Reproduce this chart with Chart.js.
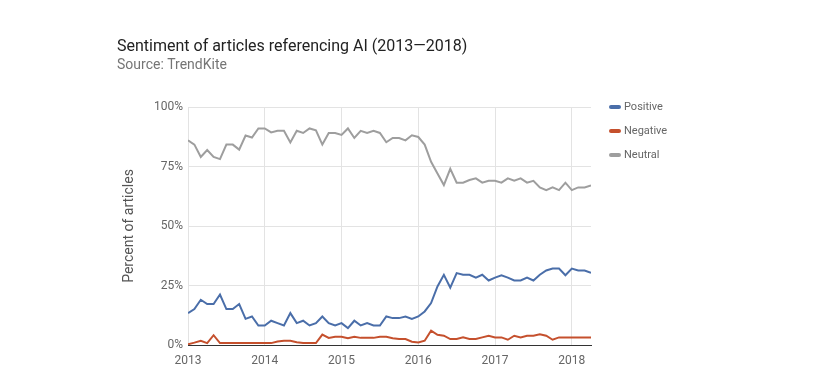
<!DOCTYPE html>
<html>
<head>
<meta charset="utf-8">
<script src="https://cdn.jsdelivr.net/npm/chart.js@4.4.0/dist/chart.umd.min.js"></script>
<style>
  html, body { margin: 0; padding: 0; background: #fff; }
  canvas { display: block; }
</style>
</head>
<body>
<canvas id="chart" width="818" height="391"></canvas>
<script>
// tick labels (one per January)
var years = ["2013", "2014", "2015", "2016", "2017", "2018"];

// monthly shares in %, Jan 2013 .. Apr 2018
var positive = [13.4, 15.1, 19.0, 17.2, 17.2, 21.2, 15.1, 15.1, 17.2, 11.0,
                12.0, 8.2, 8.2, 10.2, 9.2, 8.2, 13.4, 9.2, 10.2, 8.2,
                9.2, 12.0, 9.2, 8.2, 9.2, 7.1, 10.2, 8.2, 9.2, 8.2,
                8.2, 12.0, 11.3, 11.3, 12.0, 11.0, 12.0, 14.1, 17.6, 24.6,
                29.5, 24.1, 30.2, 29.5, 29.5, 28.3, 29.5, 27.1, 28.3, 29.3,
                28.3, 27.1, 27.1, 28.3, 27.1, 29.5, 31.3, 32.1, 32.1, 29.3,
                32.1, 31.3, 31.3, 30.3];

var negative = [0.3, 1.0, 1.8, 0.8, 4.1, 0.8, 0.8, 0.8, 0.8, 0.8,
                0.8, 0.8, 0.8, 0.8, 1.5, 1.8, 1.8, 1.2, 0.8, 0.8,
                0.8, 4.4, 3.0, 3.5, 3.5, 2.8, 3.5, 3.0, 3.0, 3.0,
                3.5, 3.5, 2.8, 2.5, 2.5, 1.4, 1.1, 1.8, 6.0, 4.3,
                3.9, 2.5, 2.5, 3.2, 2.5, 2.5, 3.2, 3.9, 3.2, 3.2,
                2.2, 3.9, 3.2, 3.9, 3.9, 4.5, 3.9, 2.2, 3.2, 3.2,
                3.2, 3.2, 3.2, 3.2];

var neutral = [86.0, 84.2, 79.0, 81.9, 79.0, 78.1, 84.2, 84.2, 82.1, 88.0,
               87.2, 91.0, 91.0, 89.3, 90.0, 90.0, 85.1, 90.0, 89.1, 91.0,
               90.2, 84.2, 89.1, 89.1, 88.3, 91.0, 87.0, 90.0, 89.1, 90.0,
               89.1, 85.2, 87.0, 87.0, 86.0, 88.1, 87.4, 84.2, 77.0, 72.1,
               67.2, 74.0, 68.2, 68.2, 69.3, 70.0, 68.2, 69.0, 69.0, 68.2,
               70.0, 69.0, 70.0, 68.2, 69.0, 66.2, 65.1, 66.2, 65.1, 68.2,
               65.1, 66.2, 66.2, 67.0];

var seriesNames = ["Positive", "Negative", "Neutral"];
var seriesColors = ["#4a6ea9", "#c5502d", "#9e9e9e"];

var FONT = "Roboto, 'Noto Sans', Arial, sans-serif";

function toPoints(arr) {
    return arr.map(function (v, i) { return {x: i, y: v}; });
}

function makeDataset(idx, arr) {
    return {
        label: seriesNames[idx],
        data: toPoints(arr),
        borderColor: seriesColors[idx],
        backgroundColor: seriesColors[idx],
        borderWidth: 2,
        pointRadius: 0,
        tension: 0
    };
}

// title, subtitle and legend are drawn by hand
var headerPlugin = {
    id: "header",
    beforeDraw: function (chart) {
        var ctx = chart.ctx;
        ctx.save();
        ctx.fillStyle = "#fff";
        ctx.fillRect(0, 0, chart.width, chart.height);
        ctx.restore();
    },
    afterDraw: function (chart) {
        var ctx = chart.ctx;
        ctx.save();
        ctx.textBaseline = "middle";
        ctx.textAlign = "left";
        ctx.fillStyle = "#222";
        ctx.font = "16px " + FONT;
        ctx.fillText("Sentiment of articles referencing AI (2013\u20142018)", 117, 47);
        ctx.fillStyle = "#757575";
        ctx.font = "14px " + FONT;
        ctx.fillText("Source: TrendKite", 117, 65);

        // legend
        ctx.font = "11px " + FONT;
        chart.data.datasets.forEach(function (ds, i) {
            var y = 107 + i * 24;
            ctx.strokeStyle = ds.borderColor;
            ctx.lineWidth = 4;
            ctx.lineCap = "round";
            ctx.beginPath();
            ctx.moveTo(611, y);
            ctx.lineTo(619, y);
            ctx.stroke();
            ctx.fillStyle = "#666";
            ctx.fillText(ds.label, 624, y);
        });
        ctx.restore();
    }
};

var chart = new Chart(document.getElementById("chart"), {
    type: "line",
    data: {
        datasets: [
            makeDataset(0, positive),
            makeDataset(1, negative),
            makeDataset(2, neutral)
        ]
    },
    plugins: [headerPlugin],
    options: {
        responsive: false,
        animation: false,
        devicePixelRatio: 1,
        layout: {padding: {left: 117, top: 107, right: 227, bottom: 0}},
        plugins: {
            legend: {display: false},
            tooltip: {enabled: false}
        },
        scales: {
            x: {
                type: "linear",
                min: 0,
                max: positive.length - 1,
                afterBuildTicks: function (scale) {
                    scale.ticks = years.map(function (y, i) { return {value: i * 12}; });
                },
                afterFit: function (scale) { scale.height = 46; },
                ticks: {
                    autoSkip: false,
                    maxRotation: 0,
                    padding: 9,
                    color: "#666",
                    font: {family: FONT, size: 12},
                    callback: function (v) { return years[Math.round(v / 12)]; }
                },
                grid: {color: "#e3e3e3", drawTicks: false},
                border: {color: "#333", width: 1}
            },
            y: {
                min: 0,
                max: 100,
                afterFit: function (scale) { scale.width = 71; },
                ticks: {
                    stepSize: 25,
                    padding: 5,
                    color: "#666",
                    font: {family: FONT, size: 12},
                    callback: function (v) { return v + "%"; }
                },
                grid: {color: "#e3e3e3", drawTicks: false},
                border: {display: false},
                title: {
                    display: true,
                    text: "Percent of articles",
                    color: "#555",
                    font: {family: FONT, size: 14},
                    padding: {top: 4, bottom: 0}
                }
            }
        }
    }
});
</script>
</body>
</html>
